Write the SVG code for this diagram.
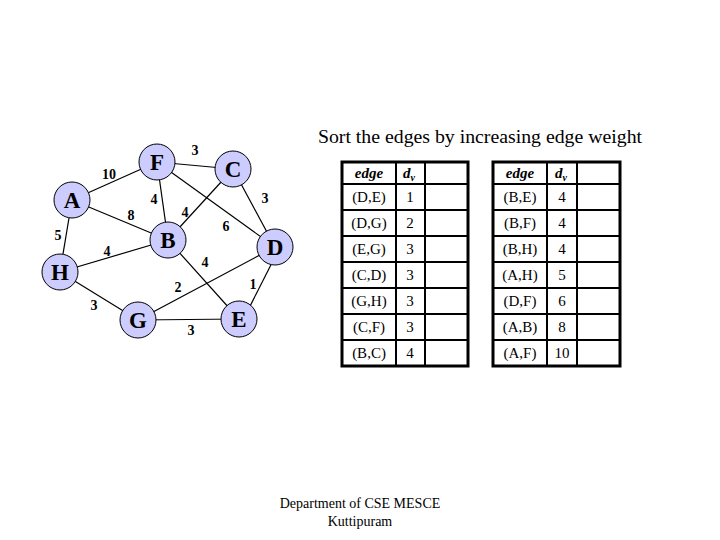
<svg xmlns="http://www.w3.org/2000/svg" width="720" height="540" viewBox="0 0 720 540">
<style>
.edge{stroke:#000;stroke-width:1.2;fill:none}
.node circle{fill:#ccccff;stroke:#000;stroke-width:1}
.node text{font-family:"Liberation Serif",serif;font-weight:bold;font-size:23px;text-anchor:middle}
.w{font-family:"Liberation Serif",serif;font-weight:bold;font-size:14px;text-anchor:middle}
.outer{fill:none;stroke:#000;stroke-width:3}
.inner{stroke:#000;stroke-width:2}
.cell{font-family:"Liberation Serif",serif;font-size:15px;text-anchor:middle}
.hdr{font-family:"Liberation Serif",serif;font-size:15px;font-weight:bold;font-style:italic;text-anchor:middle}
.title{font-family:"Liberation Serif",serif;font-size:19.8px;text-anchor:middle}
.foot{font-family:"Liberation Serif",serif;font-size:14px;text-anchor:middle}
</style>
<rect width="720" height="540" fill="#fff"/>
<g id="connectors">
<line class="edge" x1="72" y1="200" x2="157" y2="162"/>
<line class="edge" x1="157" y1="162" x2="233" y2="169"/>
<line class="edge" x1="157" y1="162" x2="168" y2="240"/>
<line class="edge" x1="157" y1="162" x2="275" y2="247"/>
<line class="edge" x1="233" y1="169" x2="168" y2="240"/>
<line class="edge" x1="233" y1="169" x2="275" y2="247"/>
<line class="edge" x1="72" y1="200" x2="168" y2="240"/>
<line class="edge" x1="72" y1="200" x2="60" y2="272"/>
<line class="edge" x1="60" y1="272" x2="168" y2="240"/>
<line class="edge" x1="168" y1="240" x2="239" y2="319"/>
<line class="edge" x1="275" y1="247" x2="138" y2="320"/>
<line class="edge" x1="280" y1="247" x2="244" y2="318"/>
<line class="edge" x1="60" y1="272" x2="138" y2="320"/>
<line class="edge" x1="138" y1="320" x2="239" y2="319"/>
</g>
<g id="weights">
<text class="w" x="195" y="155">3</text>
<text class="w" x="109" y="179">10</text>
<text class="w" x="154" y="204">4</text>
<text class="w" x="265" y="203">3</text>
<text class="w" x="131" y="220">8</text>
<text class="w" x="185" y="217">4</text>
<text class="w" x="226" y="231">6</text>
<text class="w" x="58" y="240">5</text>
<text class="w" x="107" y="256">4</text>
<text class="w" x="205" y="267">4</text>
<text class="w" x="253" y="289">1</text>
<text class="w" x="178" y="292">2</text>
<text class="w" x="94" y="310">3</text>
<text class="w" x="191" y="335">3</text>
</g>
<g id="node-F" class="node"><circle cx="157" cy="162" r="18"/><text x="157" y="170">F</text></g>
<g id="node-C" class="node"><circle cx="233" cy="169" r="18"/><text x="233" y="177">C</text></g>
<g id="node-A" class="node"><circle cx="72" cy="200" r="18"/><text x="72" y="208">A</text></g>
<g id="node-B" class="node"><circle cx="168" cy="240" r="18"/><text x="168" y="248">B</text></g>
<g id="node-D" class="node"><circle cx="275" cy="247" r="18"/><text x="275" y="255">D</text></g>
<g id="node-H" class="node"><circle cx="60" cy="272" r="18"/><text x="60" y="280">H</text></g>
<g id="node-G" class="node"><circle cx="138" cy="320" r="18"/><text x="138" y="328">G</text></g>
<g id="node-E" class="node"><circle cx="239" cy="319" r="18"/><text x="239" y="327">E</text></g>
<text class="title" x="480" y="143">Sort the edges by increasing edge weight</text>
<g id="table-left">
<rect class="outer" x="342" y="162" width="126" height="204"/>
<line class="inner" x1="396" y1="162" x2="396" y2="366"/>
<line class="inner" x1="425" y1="162" x2="425" y2="366"/>
<line class="inner" x1="342" y1="184" x2="468" y2="184"/>
<line class="inner" x1="342" y1="210" x2="468" y2="210"/>
<line class="inner" x1="342" y1="236" x2="468" y2="236"/>
<line class="inner" x1="342" y1="262" x2="468" y2="262"/>
<line class="inner" x1="342" y1="288" x2="468" y2="288"/>
<line class="inner" x1="342" y1="314" x2="468" y2="314"/>
<line class="inner" x1="342" y1="340" x2="468" y2="340"/>
<text class="hdr" x="369" y="178">edge</text>
<text class="hdr" x="409" y="178">d<tspan font-size="10" dy="3">v</tspan></text>
<text class="cell" x="369" y="202">(D,E)</text><text class="cell" x="410" y="202">1</text>
<text class="cell" x="369" y="228">(D,G)</text><text class="cell" x="410" y="228">2</text>
<text class="cell" x="369" y="254">(E,G)</text><text class="cell" x="410" y="254">3</text>
<text class="cell" x="369" y="280">(C,D)</text><text class="cell" x="410" y="280">3</text>
<text class="cell" x="369" y="306">(G,H)</text><text class="cell" x="410" y="306">3</text>
<text class="cell" x="369" y="332">(C,F)</text><text class="cell" x="410" y="332">3</text>
<text class="cell" x="369" y="358">(B,C)</text><text class="cell" x="410" y="358">4</text>
</g>
<g id="table-right">
<rect class="outer" x="493" y="162" width="127" height="204"/>
<line class="inner" x1="547" y1="162" x2="547" y2="366"/>
<line class="inner" x1="577" y1="162" x2="577" y2="366"/>
<line class="inner" x1="493" y1="184" x2="620" y2="184"/>
<line class="inner" x1="493" y1="210" x2="620" y2="210"/>
<line class="inner" x1="493" y1="236" x2="620" y2="236"/>
<line class="inner" x1="493" y1="262" x2="620" y2="262"/>
<line class="inner" x1="493" y1="288" x2="620" y2="288"/>
<line class="inner" x1="493" y1="314" x2="620" y2="314"/>
<line class="inner" x1="493" y1="340" x2="620" y2="340"/>
<text class="hdr" x="520" y="178">edge</text>
<text class="hdr" x="561" y="178">d<tspan font-size="10" dy="3">v</tspan></text>
<text class="cell" x="520" y="202">(B,E)</text><text class="cell" x="562" y="202">4</text>
<text class="cell" x="520" y="228">(B,F)</text><text class="cell" x="562" y="228">4</text>
<text class="cell" x="520" y="254">(B,H)</text><text class="cell" x="562" y="254">4</text>
<text class="cell" x="520" y="280">(A,H)</text><text class="cell" x="562" y="280">5</text>
<text class="cell" x="520" y="306">(D,F)</text><text class="cell" x="562" y="306">6</text>
<text class="cell" x="520" y="332">(A,B)</text><text class="cell" x="562" y="332">8</text>
<text class="cell" x="520" y="358">(A,F)</text><text class="cell" x="562" y="358">10</text>
</g>
<text class="foot" x="360" y="508">Department of CSE MESCE</text>
<text class="foot" x="360" y="526">Kuttipuram</text>
</svg>
